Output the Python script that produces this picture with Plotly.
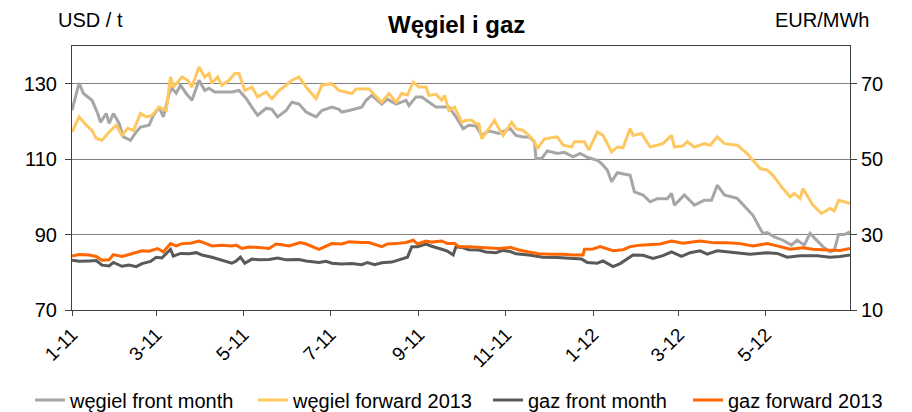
import plotly.graph_objects as go

# ---------------- data ----------------
coal_fm_dates = ["2011-01-01","2011-01-06","2011-01-09","2011-01-15","2011-01-19","2011-01-21","2011-01-25","2011-01-27","2011-01-30","2011-02-03","2011-02-06","2011-02-11","2011-02-15","2011-02-18","2011-02-24","2011-02-27","2011-03-03","2011-03-06","2011-03-10","2011-03-12","2011-03-15","2011-03-18","2011-03-22","2011-03-26","2011-03-31","2011-04-04","2011-04-07","2011-04-11","2011-04-16","2011-04-23","2011-04-28","2011-05-03","2011-05-07","2011-05-11","2011-05-17","2011-05-21","2011-05-25","2011-05-31","2011-06-04","2011-06-09","2011-06-14","2011-06-21","2011-06-25","2011-07-02","2011-07-07","2011-07-09","2011-07-14","2011-07-23","2011-07-26","2011-07-30","2011-08-06","2011-08-10","2011-08-16","2011-08-23","2011-08-25","2011-08-30","2011-09-03","2011-09-08","2011-09-13","2011-09-22","2011-09-27","2011-10-02","2011-10-06","2011-10-11","2011-10-15","2011-10-20","2011-10-27","2011-11-04","2011-11-08","2011-11-13","2011-11-17","2011-11-21","2011-11-22","2011-11-26","2011-11-30","2011-12-07","2011-12-12","2011-12-18","2011-12-23","2011-12-28","2012-01-04","2012-01-07","2012-01-11","2012-01-14","2012-01-18","2012-01-27","2012-01-30","2012-02-05","2012-02-10","2012-02-15","2012-02-22","2012-02-25","2012-02-27","2012-03-05","2012-03-12","2012-03-19","2012-03-24","2012-03-28","2012-04-02","2012-04-11","2012-04-18","2012-04-22","2012-04-27","2012-04-29","2012-05-02","2012-05-07","2012-05-13","2012-05-19","2012-05-23","2012-05-28","2012-06-01","2012-06-06","2012-06-10","2012-06-15","2012-06-18","2012-06-21","2012-06-25","2012-06-29"]
coal_fm_usd = [122.9,130.2,127.4,125.6,122.1,119.8,122.1,119.5,122.1,119.5,115.9,115.0,117.2,118.5,119.0,121.6,123.8,121.2,127.4,128.8,127.5,129.6,127.4,125.6,130.9,128.2,128.8,127.8,127.8,127.8,128.2,126.1,123.8,121.6,123.5,123.2,121.2,122.9,125.1,124.6,122.5,121.2,122.9,123.8,123.2,122.5,122.9,123.8,125.6,126.9,124.6,125.9,124.6,125.6,124.2,126.5,126.5,125.1,123.8,123.8,121.2,118.1,119.0,118.8,116.3,117.5,116.8,118.1,116.3,115.9,115.9,114.6,110.2,110.2,112.2,111.5,111.8,110.6,111.5,110.5,109.7,108.8,107.1,104.0,106.4,105.7,101.3,100.5,98.7,99.5,99.5,100.9,97.8,100.5,97.8,99.1,99.1,103.1,100.5,99.6,96.9,95.1,91.6,90.3,90.5,89.4,88.5,87.2,88.5,87.2,90.3,88.5,86.8,85.4,85.8,90.0,90.0,90.7]

coal_fw_dates = ["2011-01-01","2011-01-06","2011-01-11","2011-01-15","2011-01-18","2011-01-22","2011-01-27","2011-02-01","2011-02-05","2011-02-09","2011-02-13","2011-02-18","2011-02-22","2011-02-26","2011-03-03","2011-03-08","2011-03-11","2011-03-13","2011-03-19","2011-03-23","2011-03-26","2011-03-31","2011-04-04","2011-04-07","2011-04-09","2011-04-13","2011-04-16","2011-04-21","2011-04-25","2011-04-28","2011-05-02","2011-05-07","2011-05-11","2011-05-17","2011-05-21","2011-05-26","2011-05-31","2011-06-04","2011-06-09","2011-06-14","2011-06-21","2011-06-25","2011-07-02","2011-07-07","2011-07-16","2011-07-19","2011-07-28","2011-08-02","2011-08-06","2011-08-11","2011-08-16","2011-08-20","2011-08-24","2011-08-28","2011-09-01","2011-09-06","2011-09-08","2011-09-13","2011-09-17","2011-09-19","2011-09-22","2011-09-26","2011-10-01","2011-10-04","2011-10-08","2011-10-11","2011-10-13","2011-10-15","2011-10-20","2011-10-24","2011-10-27","2011-10-30","2011-11-05","2011-11-08","2011-11-13","2011-11-17","2011-11-21","2011-11-23","2011-11-28","2011-12-07","2011-12-11","2011-12-17","2011-12-19","2011-12-26","2011-12-29","2012-01-04","2012-01-08","2012-01-11","2012-01-14","2012-01-18","2012-01-22","2012-01-27","2012-01-29","2012-02-04","2012-02-10","2012-02-19","2012-02-25","2012-02-27","2012-03-04","2012-03-07","2012-03-12","2012-03-19","2012-03-23","2012-03-28","2012-04-02","2012-04-11","2012-04-18","2012-04-22","2012-04-27","2012-05-02","2012-05-06","2012-05-13","2012-05-18","2012-05-21","2012-05-25","2012-05-27","2012-06-03","2012-06-09","2012-06-15","2012-06-18","2012-06-21","2012-06-26","2012-06-29"]
coal_fw_usd = [117.2,121.2,119.0,117.6,115.5,115.0,117.2,119.0,116.3,118.2,117.6,122.1,121.2,121.6,123.8,122.9,131.8,129.1,131.8,130.9,129.1,134.4,131.8,132.7,130.1,131.8,129.6,130.9,132.7,132.7,128.2,129.1,126.5,127.8,126.0,128.2,129.6,130.9,131.8,129.1,126.0,129.6,130.0,128.2,127.4,128.6,128.6,126.5,125.1,127.4,125.1,127.4,127.0,130.4,129.1,129.1,126.9,127.2,125.6,126.9,122.9,123.8,119.8,120.3,120.3,119.4,119.4,115.4,118.1,120.3,118.1,116.3,119.8,118.1,117.6,116.3,114.6,112.8,115.4,115.9,113.7,113.2,114.6,114.6,112.4,117.2,116.3,114.0,111.9,113.2,113.0,118.1,116.3,116.8,113.2,114.1,116.3,113.2,113.5,114.6,113.2,114.1,113.7,115.9,114.1,113.7,111.5,109.7,107.5,107.1,105.7,102.2,100.0,100.9,99.6,102.2,97.8,95.6,96.9,96.3,99.1,98.6,98.2]

gas_fm_dates = ["2011-01-01","2011-01-06","2011-01-13","2011-01-18","2011-01-22","2011-01-27","2011-01-30","2011-02-05","2011-02-10","2011-02-15","2011-02-19","2011-02-25","2011-03-01","2011-03-05","2011-03-11","2011-03-13","2011-03-18","2011-03-24","2011-03-29","2011-04-02","2011-04-09","2011-04-16","2011-04-23","2011-04-26","2011-04-29","2011-05-02","2011-05-07","2011-05-12","2011-05-19","2011-05-25","2011-05-31","2011-06-09","2011-06-14","2011-06-23","2011-06-28","2011-07-02","2011-07-09","2011-07-16","2011-07-23","2011-07-27","2011-08-01","2011-08-06","2011-08-13","2011-08-18","2011-08-24","2011-08-27","2011-08-31","2011-09-06","2011-09-10","2011-09-17","2011-09-21","2011-09-25","2011-09-27","2011-10-01","2011-10-06","2011-10-13","2011-10-18","2011-10-25","2011-10-30","2011-11-04","2011-11-08","2011-11-17","2011-11-27","2011-12-07","2011-12-16","2011-12-24","2011-12-28","2012-01-04","2012-01-08","2012-01-15","2012-01-20","2012-01-25","2012-01-29","2012-02-05","2012-02-12","2012-02-19","2012-02-25","2012-03-03","2012-03-09","2012-03-16","2012-03-21","2012-03-28","2012-04-08","2012-04-20","2012-05-02","2012-05-09","2012-05-16","2012-05-25","2012-06-06","2012-06-15","2012-06-22","2012-06-29"]
gas_fm_eur = [23.2,22.9,23.0,23.1,21.9,21.7,22.6,21.6,21.9,21.5,22.3,22.9,24.0,23.8,26.1,24.3,25.0,24.9,25.2,24.6,24.0,23.3,22.4,23.0,24.0,22.4,23.5,23.3,23.4,23.8,23.3,23.4,23.0,22.6,22.9,22.4,22.2,22.3,22.0,22.6,22.0,22.5,22.7,23.3,24.0,26.8,26.8,27.5,26.9,26.1,25.6,24.6,26.8,26.6,26.0,25.9,25.4,25.2,25.8,25.5,24.9,24.6,24.0,23.9,23.7,23.5,22.6,22.4,23.0,21.5,22.3,23.5,24.6,24.5,23.7,24.4,25.4,24.2,25.2,25.7,24.8,25.7,25.2,24.8,25.2,25.0,24.0,24.4,24.4,24.0,24.2,24.6]

gas_fw_dates = ["2011-01-01","2011-01-06","2011-01-13","2011-01-18","2011-01-22","2011-01-27","2011-01-30","2011-02-05","2011-02-10","2011-02-15","2011-02-19","2011-02-24","2011-03-02","2011-03-06","2011-03-11","2011-03-15","2011-03-19","2011-03-25","2011-03-31","2011-04-05","2011-04-09","2011-04-16","2011-04-23","2011-04-26","2011-04-30","2011-05-05","2011-05-12","2011-05-19","2011-05-24","2011-05-28","2011-06-02","2011-06-10","2011-06-14","2011-06-23","2011-06-28","2011-07-02","2011-07-09","2011-07-14","2011-07-23","2011-07-28","2011-08-06","2011-08-10","2011-08-16","2011-08-23","2011-08-28","2011-08-31","2011-09-06","2011-09-10","2011-09-17","2011-09-21","2011-09-26","2011-09-29","2011-10-06","2011-10-13","2011-10-20","2011-10-27","2011-11-04","2011-11-10","2011-11-17","2011-11-24","2011-12-02","2011-12-11","2011-12-18","2011-12-25","2011-12-26","2012-01-01","2012-01-06","2012-01-11","2012-01-15","2012-01-22","2012-01-27","2012-02-03","2012-02-10","2012-02-17","2012-02-25","2012-03-04","2012-03-16","2012-03-26","2012-04-04","2012-04-13","2012-04-22","2012-05-02","2012-05-09","2012-05-18","2012-05-27","2012-06-03","2012-06-13","2012-06-22","2012-06-29"]
gas_fw_eur = [24.3,24.7,24.6,24.2,23.2,23.3,24.7,24.2,24.7,25.2,25.7,25.6,26.3,25.4,27.6,27.0,27.6,27.7,28.3,27.6,27.0,27.2,27.0,27.2,26.3,26.7,26.6,26.3,27.5,27.3,27.0,27.9,27.5,26.1,27.0,27.6,27.5,28.1,27.9,27.9,26.8,27.5,27.6,27.9,28.5,27.5,28.3,28.0,28.3,27.6,27.6,26.8,26.8,26.6,26.3,26.3,26.6,25.9,25.4,24.9,24.8,24.8,24.6,24.6,26.1,26.2,26.8,26.1,25.7,26.0,26.8,27.2,27.4,27.5,28.3,27.7,28.3,27.8,27.8,27.6,27.0,27.6,27.0,26.1,26.5,26.1,25.9,25.8,26.3]

series_names = ["węgiel front month", "węgiel forward 2013", "gaz front month", "gaz forward 2013"]
title_text = "Węgiel i gaz"
left_unit = "USD / t"
right_unit = "EUR/MWh"
left_ticks = [70, 90, 110, 130]
right_ticks = [10, 30, 50, 70]

# ---------------- figure ----------------
FONT = "Liberation Sans, Arial, sans-serif"
colors = ["#A6A6A6", "#FFC75F", "#595959", "#FF6600"]

# The page body has an 8px default margin; work in page pixels and shift.
OFF = 8
FW, FH = 912 - OFF, 412 - OFF
PL, PR, PT, PB = 72, 850, 46, 310          # plot area in page pixels
L, T = PL - OFF, PT - OFF
R = FW - (PR - OFF)
B = FH - (PB - OFF)
W = FW - L - R
H = FH - T - B

def px(xpage):
    return (xpage - OFF - L) / W

def py(ypage):
    return (FH - B - (ypage - OFF)) / H

def cx(xpage):
    return (xpage - OFF) / FW

def cy(ypage):
    return 1 - (ypage - OFF) / FH

legend_ids = ["legend", "legend2", "legend3", "legend4"]
yaxes = ["y", "y", "y2", "y2"]
series = [(coal_fm_dates, coal_fm_usd), (coal_fw_dates, coal_fw_usd),
          (gas_fm_dates, gas_fm_eur), (gas_fw_dates, gas_fw_eur)]

fig = go.Figure()
for i, (xs, ys) in enumerate(series):
    fig.add_trace(go.Scatter(x=xs, y=ys, name=series_names[i], mode="lines",
                             line=dict(color=colors[i], width=3), yaxis=yaxes[i],
                             legend=legend_ids[i]))

legend_text_x = [70, 293, 528, 728]   # page x where each legend text starts
legend_y = 400
leg_common = dict(orientation="h", xanchor="left", yanchor="middle", xref="container",
                  yref="container", font=dict(size=20), bgcolor="rgba(0,0,0,0)",
                  borderwidth=0, itemwidth=30)
legends = {}
for i, lid in enumerate(legend_ids):
    legends[lid] = dict(leg_common, x=cx(legend_text_x[i] - 40), y=cy(legend_y))

axis_col = "#404040"
fig.update_layout(
    width=FW, height=FH,
    margin=dict(l=L, r=R, t=T, b=B, autoexpand=False),
    paper_bgcolor="white", plot_bgcolor="white",
    font=dict(family=FONT, size=20, color="black"),
    showlegend=True,
    xaxis=dict(type="date", range=["2011-01-01", "2012-06-29"], automargin=False,
               tick0="2011-01-01", dtick="M2", tickformat="%-m-%y", tickangle=-45,
               tickfont=dict(size=19),
               showgrid=False, showline=True, linecolor=axis_col, linewidth=1, mirror=True,
               ticks="outside", ticklen=5, tickcolor=axis_col, zeroline=False),
    yaxis=dict(range=[70, 140], tickvals=left_ticks, showgrid=True, gridcolor="#808080", gridwidth=1,
               automargin=False, tickfont=dict(size=20), ticklabelstandoff=4,
               showline=True, linecolor=axis_col, linewidth=1, ticks="outside", ticklen=6,
               tickcolor=axis_col, zeroline=False),
    yaxis2=dict(range=[10, 80], tickvals=right_ticks, overlaying="y", side="right", showgrid=False,
                automargin=False, tickfont=dict(size=20),
                showline=True, linecolor=axis_col, linewidth=1, ticks="outside", ticklen=6,
                tickcolor=axis_col, zeroline=False),
    annotations=[
        dict(text="<b>" + title_text + "</b>", x=px(456), y=py(9), xref="paper", yref="paper",
             xanchor="center", yanchor="top", showarrow=False, font=dict(size=24)),
        dict(text=left_unit, x=px(56), y=py(20), xref="paper", yref="paper", showarrow=False,
             xanchor="left", yanchor="middle", font=dict(size=20)),
        dict(text=right_unit, x=px(871), y=py(20), xref="paper", yref="paper", showarrow=False,
             xanchor="right", yanchor="middle", font=dict(size=20)),
    ],
    **legends,
)

fig.write_html("out.html")
